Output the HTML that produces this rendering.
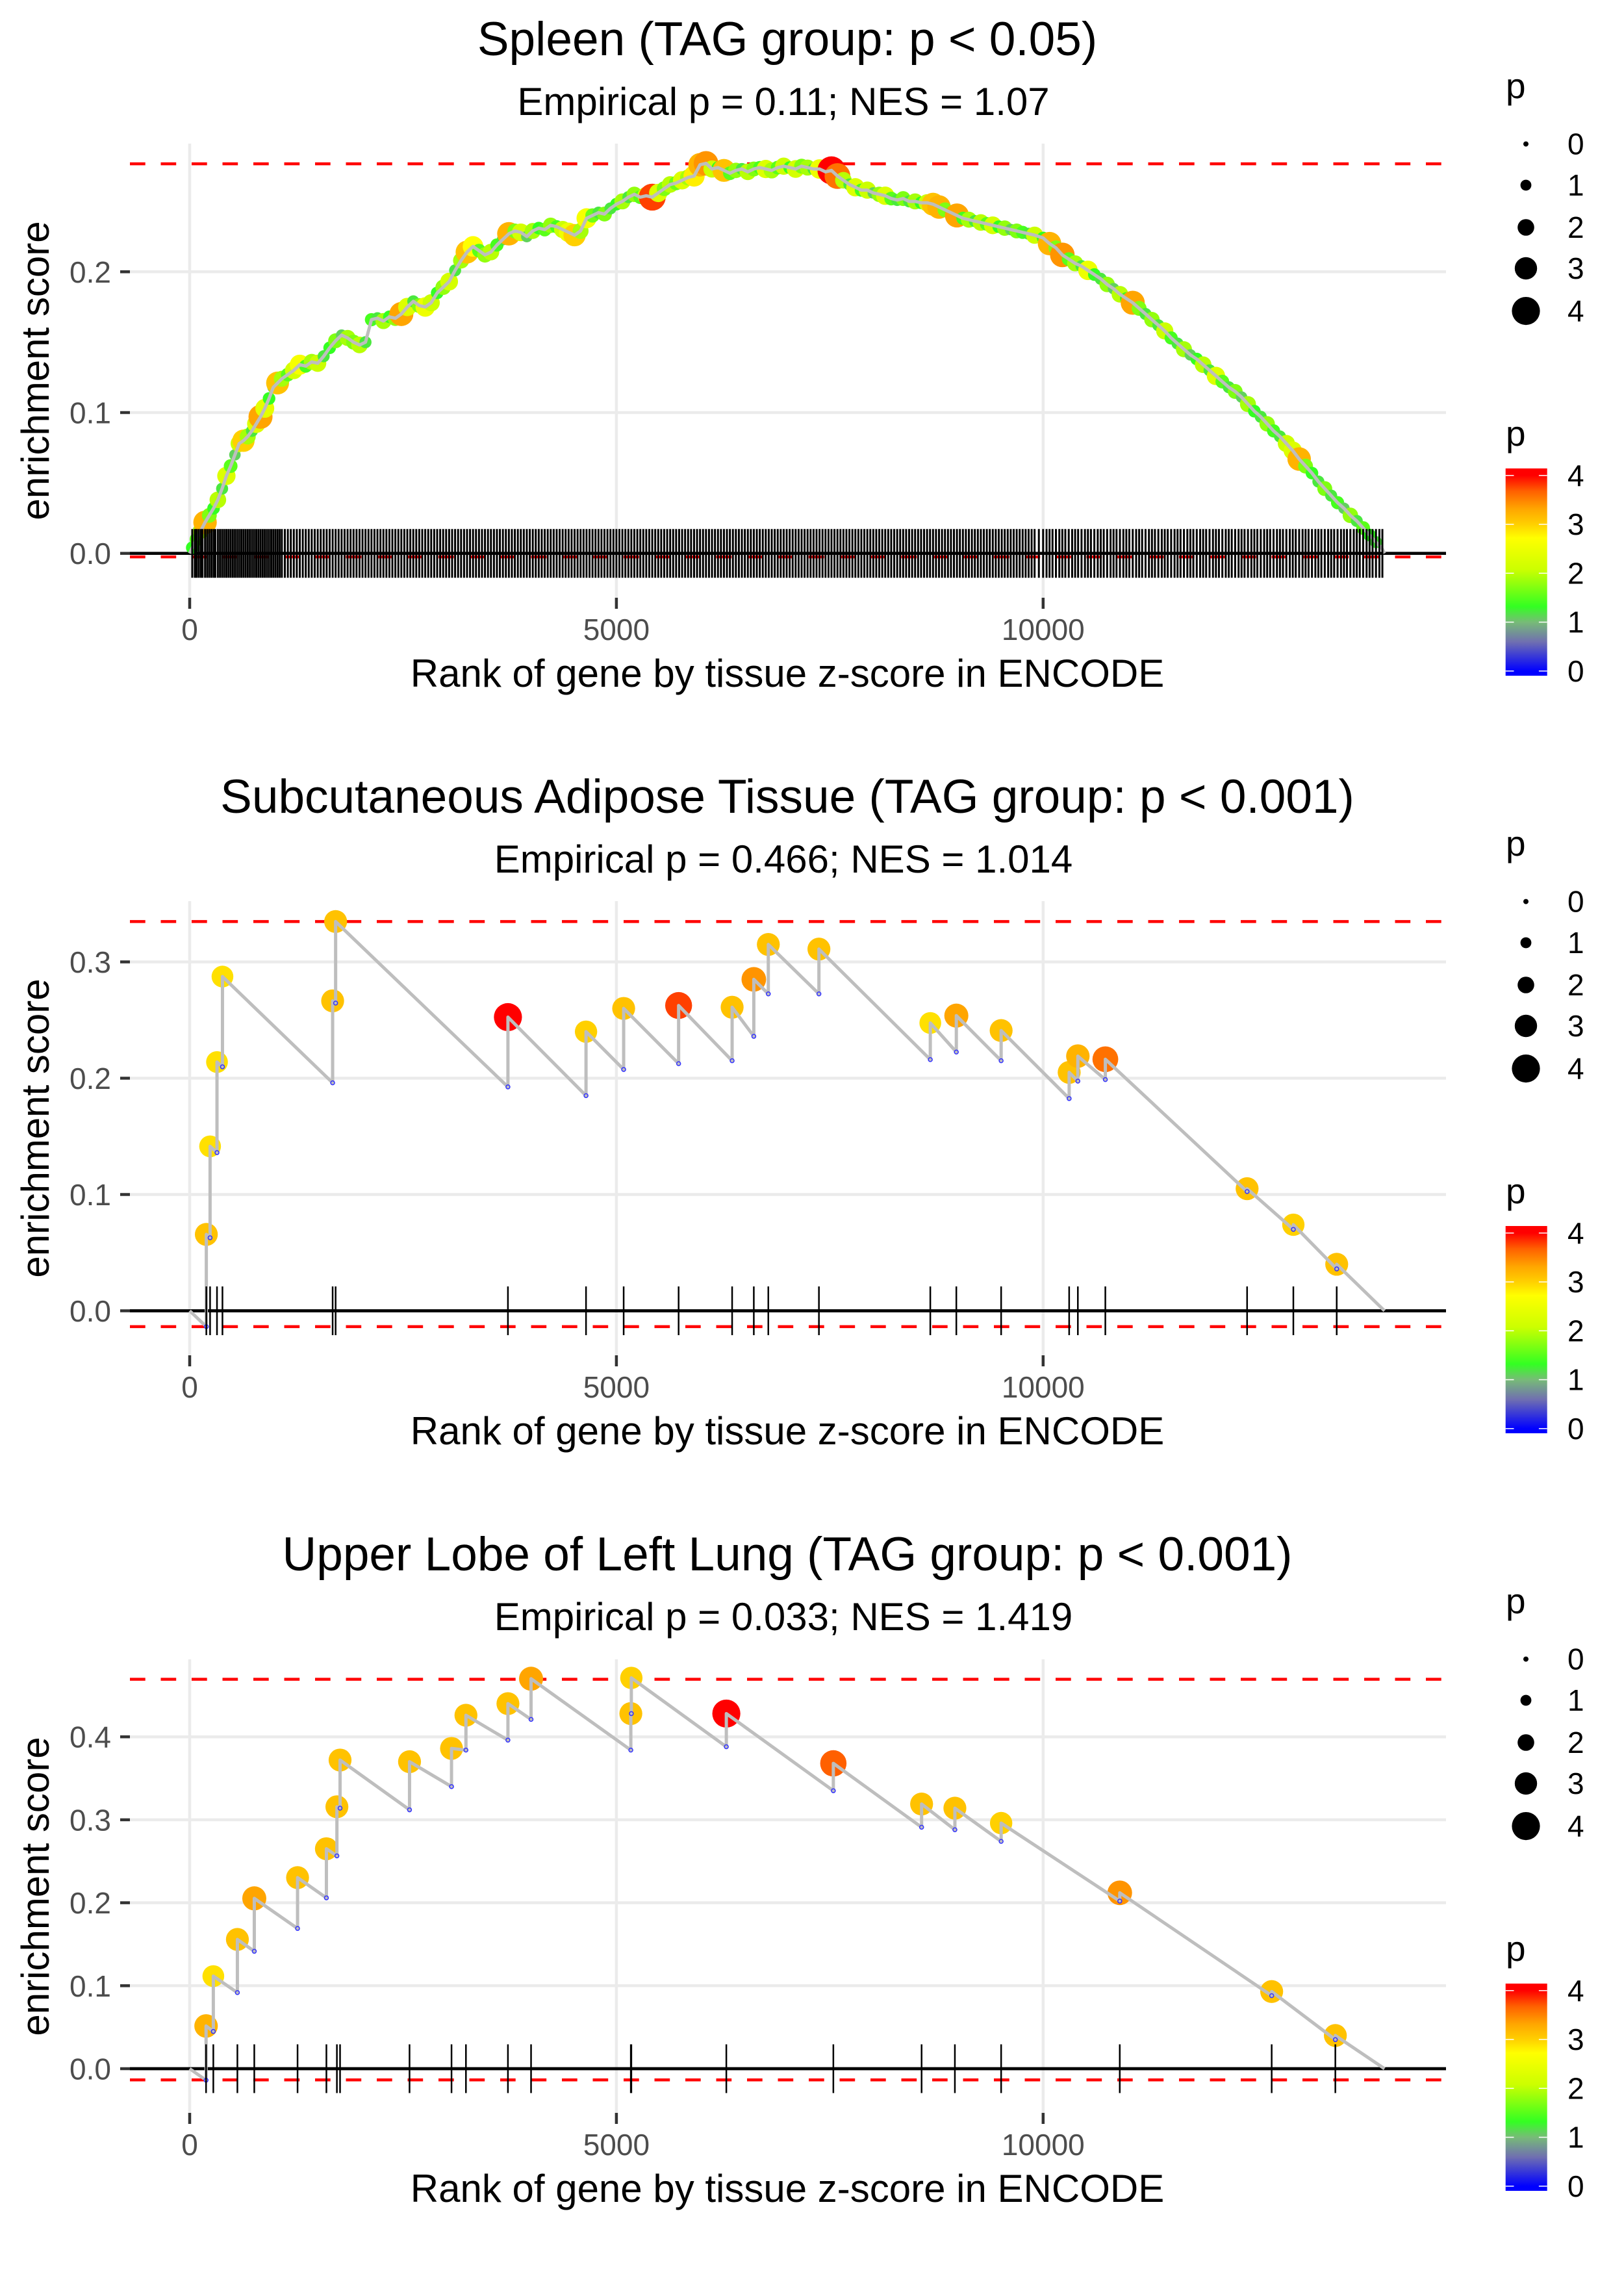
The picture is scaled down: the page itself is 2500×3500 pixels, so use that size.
<!DOCTYPE html>
<html><head><meta charset="utf-8"><style>
html,body{margin:0;padding:0;background:#fff;}
svg{display:block;font-family:"Liberation Sans",Arial,sans-serif;}
</style></head><body>
<svg id="chart" xmlns="http://www.w3.org/2000/svg" width="2500" height="3500" viewBox="0 0 2500 3500">
<defs>
<linearGradient id="pgrad" gradientUnits="userSpaceOnUse" x1="0" y1="1032.8" x2="0" y2="731.8">
<stop offset="0" stop-color="#0000ff"/><stop offset="0.15" stop-color="#7070b0"/><stop offset="0.25" stop-color="#77bb77"/><stop offset="0.33" stop-color="#33ff22"/><stop offset="0.52" stop-color="#ccff00"/><stop offset="0.68" stop-color="#ffff00"/><stop offset="0.75" stop-color="#ffd000"/><stop offset="0.83" stop-color="#ffa500"/><stop offset="0.92" stop-color="#ff6000"/><stop offset="1" stop-color="#ff0000"/>
</linearGradient>
</defs>
</svg>
<script>
// ---- Panel 1: Spleen ----
const p1Ranks=[30,80,130,180,230,280,330,380,430,480,530,580,630,680,730,780,830,880,930,980,1030,1080,1150,1220,1290,1360,1430,1500,1570,1640,1710,1780,1850,1920,1990,2060,2130,2200,2270,2340,2410,2480,2550,2620,2690,2760,2830,2900,2970,3040,3110,3180,3250,3320,3390,3460,3530,3600,3670,3740,3810,3880,3950,4020,4090,4160,4230,4300,4370,4440,4510,4580,4650,4720,4790,4860,4930,5000,5070,5140,5210,5280,5350,5420,5490,5560,5630,5700,5770,5840,5910,5980,6050,6120,6190,6260,6330,6400,6470,6540,6610,6680,6750,6820,6890,6960,7030,7100,7170,7240,7310,7380,7450,7520,7590,7660,7730,7800,7870,7940,8010,8080,8150,8220,8290,8360,8430,8500,8570,8640,8710,8780,8850,8920,8990,9060,9130,9200,9270,9340,9410,9480,9550,9620,9690,9760,9830,9900,10000,10075,10150,10225,10300,10375,10450,10525,10600,10675,10750,10825,10900,10975,11050,11125,11200,11275,11350,11425,11500,11575,11650,11725,11800,11875,11950,12025,12100,12175,12250,12325,12400,12475,12550,12625,12700,12775,12850,12925,13000,13075,13150,13225,13300,13375,13450,13525,13600,13675,13750,13825,13900,13975];
const p1ES=[.004,.010,.016,.022,.027,.032,.038,.046,.055,.062,.070,.078,.080,.083,.087,.092,.097,.103,.110,.118,.121,.124,.127,.130,.134,.133,.136,.135,.140,.146,.151,.155,.153,.150,.148,.150,.166,.167,.165,.168,.167,.170,.175,.179,.176,.175,.178,.185,.189,.193,.201,.208,.214,.218,.215,.212,.214,.219,.223,.227,.229,.228,.225,.229,.231,.230,.233,.232,.230,.228,.226,.229,.238,.240,.242,.241,.245,.248,.250,.253,.255,.253,.254,.253,.256,.259,.262,.263,.265,.267,.268,.276,.277,.273,.274,.272,.270,.272,.273,.271,.273,.274,.273,.272,.274,.275,.274,.273,.275,.274,.273,.273,.271,.272,.268,.265,.262,.260,.258,.258,.256,.255,.254,.252,.251,.252,.250,.250,.249,.249,.248,.246,.244,.242,.240,.238,.237,.236,.235,.234,.233,.232,.231,.230,.229,.228,.227,.226,.224,.220,.217,.212,.209,.206,.204,.201,.198,.195,.191,.188,.184,.181,.178,.174,.170,.166,.162,.158,.153,.149,.145,.141,.138,.134,.130,.126,.122,.118,.115,.111,.106,.101,.097,.092,.087,.083,.078,.073,.067,.062,.057,.051,.046,.041,.036,.032,.027,.023,.018,.013,.008,.003];
const p1P=[1.3,1.5,1.9,3.2,1.7,1.3,2.0,1.2,2.3,1.5,1.1,2.1,3.0,1.9,1.2,2.3,3.3,2.4,1.3,1.2,3.1,1.9,1.5,2.2,2.6,1.4,1.9,2.1,1.2,1.3,1.7,1.1,1.9,1.7,2.0,1.2,1.4,1.2,1.9,1.3,1.8,3.3,2.3,1.2,1.7,2.5,2.1,1.3,1.8,2.2,1.2,1.9,3.1,2.7,1.5,1.8,2.0,1.4,1.2,3.2,1.7,2.2,1.1,1.9,1.3,1.5,1.8,1.4,2.1,2.5,3.0,1.9,2.6,1.6,1.2,1.7,1.2,1.3,1.9,1.2,1.8,1.5,2.2,3.8,2.3,1.7,2.0,1.6,2.3,1.9,2.8,3.2,3.4,2.1,1.3,3.1,1.5,1.8,1.2,2.0,1.7,1.4,2.3,1.9,1.5,2.1,1.3,2.2,1.7,1.9,1.2,2.5,1.8,4.0,3.6,2.0,1.2,2.3,1.4,2.1,1.1,1.8,2.3,1.5,1.2,1.7,1.2,1.9,1.3,2.1,3.1,3.2,1.7,1.2,3.3,1.4,1.9,1.2,2.0,1.5,2.2,1.3,1.8,1.1,1.7,1.4,1.2,2.1,1.3,3.2,1.7,3.4,1.5,1.9,1.2,2.5,1.3,1.2,1.8,1.1,2.0,1.3,3.3,1.7,1.2,1.8,1.2,2.1,1.4,1.2,1.9,1.1,1.3,2.0,1.2,2.3,1.5,1.2,1.7,1.1,1.9,1.3,1.2,1.8,1.4,1.2,2.1,2.3,3.2,1.7,1.3,1.2,1.7,1.2,1.4,1.1,1.8,1.2,1.5,1.3,1.2];
const p1ExtraRug=[60,105,150,205,255,300,355,405,455,505,555,605,655,705,755,805,855,905,955,1005,1055,1115,1185,1255,1325,1395,1465,1535,1605,1675,1745,1815,1885,1955,2025,2095,2165,2235,2305,2375,2445,2515,2585,2655,2725,2795,2865,2935,3005,3075,3145,3215,3285,3355,3425,3495,3565,3635,3705,3775,3845,3915,3985,4055,4125,4195,4265,4335,4405,4475,4545,4615,4685,4755,4825,4895,4965,5035,5105,5175,5245,5315,5385,5455,5525,5595,5665,5735,5805,5875,5945,6015,6085,6155,6225,6295,6365,6435,6505,6575,6645,6715,6785,6855,6925,6995,7065,7135,7205,7275,7345,7415,7485,7555,7625,7695,7765,7835,7905,7975,8045,8115,8185,8255,8325,8395,8465,8535,8605,8675,8745,8815,8885,8955,9025,9095,9165,9235,9305,9375,9445,9515,9585,9655,9725,9795,9865,9950,10040,10110,10190,10260,10340,10410,10490,10560,10640,10710,10790,10860,10940,11010,11090,11160,11240,11310,11390,11460,11540,11610,11690,11760,11840,11910,11990,12060,12140,12210,12290,12360,12440,12510,12590,12660,12740,12810,12890,12960,13040,13110,13190,13260,13340,13410,13490,13560,13640,13710,13790,13860,13940];
// ---- Panel 2: Subcutaneous Adipose Tissue ----
const p2Ranks=[195,239,320,384,1675,1710,3729,4644,5085,5729,6356,6610,6780,7373,8678,8983,9508,10305,10407,10729,12390,12932,13440];
const p2ES=[.0657,.1414,.2139,.2874,.2665,.3347,.2525,.240,.260,.2625,.261,.285,.315,.311,.2475,.2538,.241,.205,.219,.2163,.105,.074,.040];
const p2Low=[-.0136,.0628,.136,.2098,.196,.2646,.1925,.185,.2075,.2125,.215,.236,.2725,.2725,.216,.2225,.215,.1825,.1975,.1988,.1025,.070,.036];
const p2P=[3.1,2.9,2.9,2.9,3.1,3.1,4.0,3.0,3.1,3.8,3.1,3.4,3.1,3.1,2.9,3.3,3.1,3.1,3.2,3.6,3.1,3.0,3.1];
// ---- Panel 3: Upper Lobe of Left Lung ----
const p3Ranks=[192,277,559,757,1264,1602,1725,1762,2576,3068,3237,3729,4000,5169,5175,6288,7542,8576,8966,9508,10898,12678,13424];
const p3ES=[.0515,.1116,.1558,.2053,.2303,.2651,.3157,.372,.370,.386,.426,.440,.470,.428,.471,.428,.368,.319,.314,.296,.212,.093,.040];
const p3Low=[-.0139,.0449,.0917,.1415,.169,.2059,.2565,.314,.312,.340,.384,.396,.421,.384,.428,.388,.335,.291,.288,.274,.202,.088,.035];
const p3P=[3.2,2.9,3.1,3.3,3.1,3.1,3.1,3.1,3.1,3.1,3.1,3.1,3.3,3.1,3.0,4.0,3.7,3.1,3.1,3.0,3.4,3.1,3.1];
// ---- axis ticks / labels ----
const xTicks=[0,5000,10000];
const p1YTicks=[0,0.1,0.2];
const p2YTicks=[0,0.1,0.2,0.3];
const p3YTicks=[0,0.1,0.2,0.3,0.4];
const p1Dash=[0.2767,-0.0025];
const p2Dash=[0.3347,-0.0136];
const p3Dash=[0.4694,-0.0135];
const legendValues=[0,1,2,3,4];
const titles=["Spleen (TAG group: p < 0.05)","Subcutaneous Adipose Tissue (TAG group: p < 0.001)","Upper Lobe of Left Lung (TAG group: p < 0.001)"];
const subtitles=["Empirical p = 0.11; NES = 1.07","Empirical p = 0.466; NES = 1.014","Empirical p = 0.033; NES = 1.419"];
const totalGenes=14000;

const NS="http://www.w3.org/2000/svg";
const svg=document.getElementById('chart');
function mk(tag,attrs,parent){const e=document.createElementNS(NS,tag);for(const k in attrs)e.setAttribute(k,attrs[k]);(parent||svg).appendChild(e);return e;}
const stops=[[0,[0,0,255]],[0.6,[112,112,176]],[1,[119,187,119]],[1.3,[51,255,34]],[2.1,[204,255,0]],[2.7,[255,255,0]],[3.0,[255,208,0]],[3.3,[255,165,0]],[3.7,[255,96,0]],[4,[255,0,0]]];
function pColor(p){p=Math.max(0,Math.min(4,p));for(let i=1;i<stops.length;i++){if(p<=stops[i][0]){const a=stops[i-1],b=stops[i];const t=(p-a[0])/(b[0]-a[0]);const c=a[1].map((v,j)=>Math.round(v+(b[1][j]-v)*t));return 'rgb('+c.join(',')+')';}}return 'rgb(255,0,0)';}
function pSize(p){return 4+4.4*p;}
const X0=292,XK=0.13138,PL=200,PR=2226;
function xs(r){return X0+r*XK;}

const panels=[
 {off:0,y0:851.7,k:2167,top:221,bot:920,yt:p1YTicks,dash:p1Dash,ranks:p1Ranks,es:p1ES,low:null,pv:p1P,extra:p1ExtraRug,name:'spleen'},
 {off:1166,y0:2017.5,k:1790,top:1387,bot:2086,yt:p2YTicks,dash:p2Dash,ranks:p2Ranks,es:p2ES,low:p2Low,pv:p2P,extra:[],name:'adipose'},
 {off:2332,y0:3184,k:1277,top:2554,bot:3253,yt:p3YTicks,dash:p3Dash,ranks:p3Ranks,es:p3ES,low:p3Low,pv:p3P,extra:[],name:'lung'}
];
panels.forEach((P,pi)=>{
 const g=mk('g',{});
 
 
 const ys=v=>P.y0-v*P.k;
 let t=mk('text',{x:1212,y:85+P.off,'text-anchor':'middle','font-size':73,fill:'#000'},g);t.textContent=titles[pi];
 
 
 t=mk('text',{x:1206,y:177+P.off,'text-anchor':'middle','font-size':60,fill:'#000'},g);t.textContent=subtitles[pi];
 
 
 xTicks.forEach(v=>{const l=mk('line',{x1:xs(v),x2:xs(v),y1:P.top,y2:P.bot,stroke:'#ebebeb','stroke-width':4.5},g);
  
  });
 P.yt.forEach(v=>{const l=mk('line',{x1:PL,x2:PR,y1:ys(v),y2:ys(v),stroke:'#ebebeb','stroke-width':4.5},g);
  
  });
 P.yt.forEach(v=>{const l=mk('line',{x1:185,x2:200,y1:ys(v),y2:ys(v),stroke:'#333','stroke-width':4.5},g);
  
  
  const tx=mk('text',{x:171,y:ys(v)+16.5,'text-anchor':'end','font-size':46,fill:'#4d4d4d'},g);tx.textContent=v.toFixed(1);
  
  });
 xTicks.forEach(v=>{const l=mk('line',{x1:xs(v),x2:xs(v),y1:920+P.off,y2:937+P.off,stroke:'#333','stroke-width':4.5},g);
  
  
  const tx=mk('text',{x:xs(v),y:985+P.off,'text-anchor':'middle','font-size':46,fill:'#4d4d4d'},g);tx.textContent=String(v);
  
  });
 t=mk('text',{x:1212,y:1057+P.off,'text-anchor':'middle','font-size':60,fill:'#000'},g);t.textContent='Rank of gene by tissue z-score in ENCODE';
 
 
 const cy=(P.top+P.bot)/2;
 t=mk('text',{x:0,y:0,'text-anchor':'middle','font-size':60,fill:'#000',transform:'translate(75,'+cy+') rotate(-90)'},g);t.textContent='enrichment score';
 
 
 P.dash.forEach(v=>{const l=mk('line',{x1:PL,x2:PR,y1:ys(v),y2:ys(v),stroke:'#ff0000','stroke-width':4.5,'stroke-dasharray':'23.7 23.8'},g);
  
  });
 let z=mk('line',{x1:PL,x2:PR,y1:ys(0),y2:ys(0),stroke:'#000','stroke-width':4.7},g);
 
 
 P.ranks.forEach((r,i)=>{const c=mk('circle',{cx:xs(r),cy:ys(P.es[i]),r:pSize(P.pv[i]),fill:pColor(P.pv[i])},g);
  
  });
 let d='M'+xs(0)+','+ys(0);
 P.ranks.forEach((r,i)=>{if(P.low){d+=' L'+xs(r)+','+ys(P.low[i]);}d+=' L'+xs(r)+','+ys(P.es[i]);});
 d+=' L'+xs(totalGenes)+','+ys(0);
 const pth=mk('path',{d:d,fill:'none',stroke:'#bebebe','stroke-width':5,'stroke-linejoin':'round'},g);
 
 
 if(P.low){P.ranks.forEach((r,i)=>{const c=mk('circle',{cx:xs(r),cy:ys(P.low[i]),r:3,fill:'none',stroke:'#3333ff','stroke-width':1.5},g);
  
  });}
 P.ranks.concat(P.extra).forEach(r=>{const l=mk('line',{x1:xs(r),x2:xs(r),y1:ys(0)-37.5,y2:ys(0)+37.5,stroke:'#000','stroke-width':pi===0?3:2.5},g);
  
  });
 const lg=mk('g',{},g);
 
 
 t=mk('text',{x:2318,y:151+P.off,'font-size':55,fill:'#000'},lg);t.textContent='p';
 
 
 const sy=[221.6,285,350,413,478.6];
 legendValues.forEach((v,i)=>{const c=mk('circle',{cx:2349,cy:sy[i]+P.off,r:pSize(v),fill:'#000'},lg);
  
  
  const tx=mk('text',{x:2413,y:sy[i]+16+P.off,'font-size':46,fill:'#000'},lg);tx.textContent=String(v);
  
  });
 const cg=mk('g',{transform:'translate(0,'+P.off+')'},g);
 
 
 t=mk('text',{x:2318,y:686,'font-size':55,fill:'#000'},cg);t.textContent='p';
 
 
 const bar=mk('rect',{x:2317.7,y:721,width:64,height:319,fill:'url(#pgrad)'},cg);
 
 
 legendValues.forEach(v=>{const yy=1032.8-v*75.25;
  const a=mk('line',{x1:2317.7,x2:2330.5,y1:yy,y2:yy,stroke:'#fff','stroke-width':1.5},cg);
  
  
  const b=mk('line',{x1:2368.9,x2:2381.7,y1:yy,y2:yy,stroke:'#fff','stroke-width':1.5},cg);
  
  
  const tx=mk('text',{x:2413,y:yy+16,'font-size':46,fill:'#000'},cg);tx.textContent=String(v);
  
  });
});
</script>
</body></html>
